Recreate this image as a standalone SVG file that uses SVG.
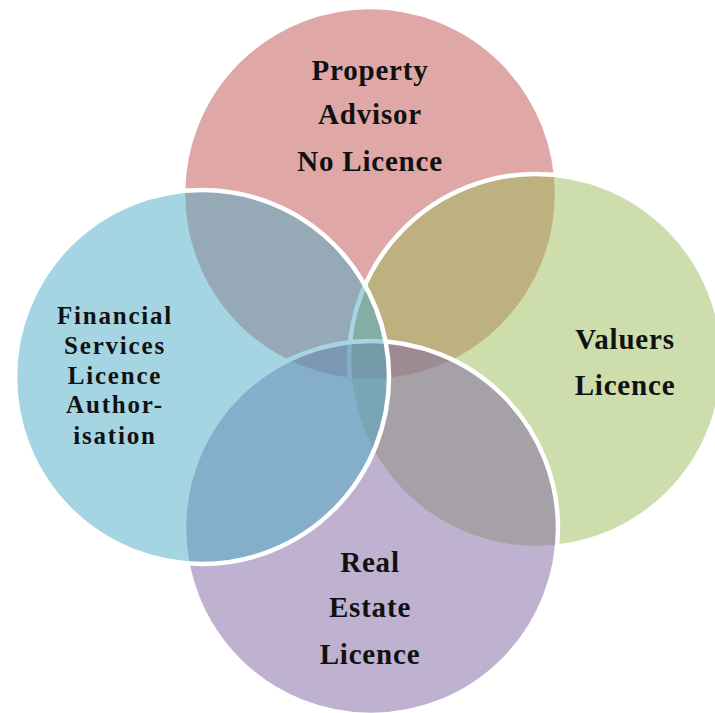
<svg xmlns="http://www.w3.org/2000/svg" width="715" height="713" viewBox="0 0 715 713">
<style>
.c{stroke:#fff;stroke-width:4.5;fill-opacity:0.5}
.t{font-family:"Liberation Serif","Times New Roman",serif;font-weight:bold;fill:#111;text-anchor:middle}
.big{font-size:29px;letter-spacing:0.8px}
.sm{font-size:25px;letter-spacing:1.8px}
</style>
<rect width="715" height="713" fill="#fff"/>
<g id="property">
<circle class="c" cx="370" cy="194" r="187" fill="#c0504d"/>
</g>
<g id="valuers">
<circle class="c" cx="536" cy="361" r="187" fill="#9bbb59"/>
</g>
<g id="realestate">
<circle class="c" cx="371" cy="528" r="187" fill="#8064a2"/>
</g>
<g id="financial">
<circle class="c" cx="202" cy="377" r="187" fill="#4bacc6"/>
</g>
<g id="labels">
<g id="property-label" class="t big">
<text x="370" y="80">Property</text>
<text x="370" y="124">Advisor</text>
<text x="370" y="171">No Licence</text>
</g>
<g id="valuers-label" class="t big">
<text x="625" y="349">Valuers</text>
<text x="625" y="395">Licence</text>
</g>
<g id="realestate-label" class="t big">
<text x="370" y="572">Real</text>
<text x="370" y="617">Estate</text>
<text x="370" y="664">Licence</text>
</g>
<g id="financial-label" class="t sm">
<text x="115" y="324">Financial</text>
<text x="115" y="354">Services</text>
<text x="115" y="384">Licence</text>
<text x="115" y="413">Author-</text>
<text x="115" y="444">isation</text>
</g>
</g>
</svg>
